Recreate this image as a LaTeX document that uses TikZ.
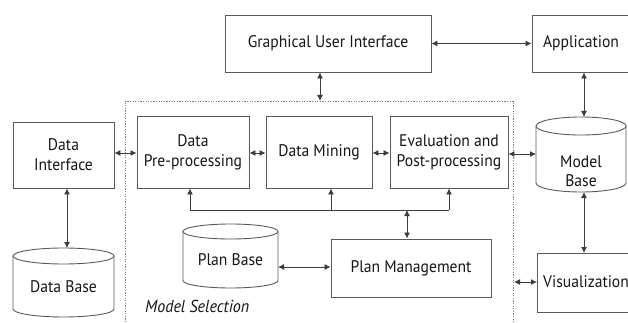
\documentclass[tikz,border=0pt]{standalone}
\usepackage{fontspec}
\setmainfont[FakeStretch=0.93]{PT Sans}
\usetikzlibrary{arrows.meta}
\definecolor{edgegray}{HTML}{5A5A5A}
\definecolor{linkgray}{HTML}{3C3C3C}
\definecolor{textgray}{HTML}{151515}
\begin{document}
\begin{tikzpicture}[x=1pt,y=1pt,
  box/.style={draw=edgegray, line width=0.9pt, inner sep=0pt, align=center,
    text=textgray, font=\fontsize{16.8}{20}\selectfont},
  label/.style={inner sep=0pt, align=center, text=textgray,
    font=\fontsize{16.8}{18.5}\selectfont},
  cylline/.style={draw=edgegray, line width=0.9pt},
  link/.style={draw=linkgray, line width=0.85pt,
    {Latex[length=6pt,width=6pt]}-{Latex[length=6pt,width=6pt]}},
  uplink/.style={draw=linkgray, line width=0.85pt, -{Latex[length=6pt,width=6pt]}},
  plain/.style={draw=linkgray, line width=0.85pt},
  frame/.style={draw=gray, line width=0.8pt, dash pattern=on 1.2pt off 1.4pt}]
\useasboundingbox (0,0) rectangle (628,-323);
\clip (0,0) rectangle (628,-323);

% cylinder outline: #1 left, #2 right, #3 top, #4 bottom (all downward), #5 rim half-height
\newcommand{\drumshape}[5]{%
  \draw[cylline, fill=white] ({#1},{-#3-#5}) -- ({#1},{-#4+#5})
    arc[start angle=180, end angle=360, x radius={(#2-#1)/2}, y radius=#5]
    -- ({#2},{-#3-#5});
  \draw[cylline] ({(#1+#2)/2},{-#3-#5}) ellipse[x radius={(#2-#1)/2}, y radius=#5];}

% dotted frame of the model selection area
\draw[frame] (125,-330) -- (125,-101) -- (513,-101) -- (513,-330);

% boxes
\node[box, minimum width=206, minimum height=57] (gui) at (328,-43.5) {Graphical User Interface};
\node[box, minimum width=98, minimum height=57] (app) at (581,-43.5) {Application};
\node[box, minimum width=101, minimum height=66] (di) at (63.5,-155) {Data\\Interface};
\node[box, minimum width=112, minimum height=72] (pre) at (193,-152) {Data\\Pre-processing};
\node[box, minimum width=106, minimum height=72] (mine) at (319,-152) {Data Mining};
\node[box, minimum width=118, minimum height=72] (eval) at (449,-152) {Evaluation and\\Post-processing};
\node[box, minimum width=160, minimum height=58] (pm) at (411,-268) {Plan Management};
\draw[draw=edgegray, line width=0.9pt] (640,-253) -- (537,-253) -- (537,-312) -- (640,-312);
\node[label, anchor=west] (vis) at (537,-282) {\hspace{6pt}Visualization};

% databases
\drumshape{536}{626}{117}{192}{9}
\node[label] (mb) at (581,-171) {Model\\Base};
\coordinate (mbtop) at (584,-117);
\coordinate (mbbot) at (584,-192);
\coordinate (mbwest) at (536,-154);

\drumshape{13}{114}{248}{317}{8}
\node[label] (db) at (63.5,-287) {Data Base};
\coordinate (dbtop) at (67,-248);

\drumshape{183}{278}{224}{288}{7.5}
\node[label] (pb) at (230.5,-260) {Plan Base};
\coordinate (pbeast) at (278,-267);

\node[inner sep=0pt, text=textgray, font=\fontsize{17.3}{20}\selectfont\itshape, anchor=west]
  (ms) at (145,-306) {Model Selection};

% connectors
\coordinate (guidot) at (320,-101);
\draw[link] (gui.east) -- (app.west);
\draw[link] (gui.south -| guidot) -- (guidot);
\draw[link] (app.south -| mbtop) -- (mbtop);
\draw[link] (di.east |- 0,-153) -- (pre.west |- 0,-153);
\draw[link] (pre.east |- 0,-153) -- (mine.west |- 0,-153);
\draw[link] (mine.east |- 0,-153) -- (eval.west |- 0,-153);
\draw[link] (eval.east |- mbwest) -- (mbwest);
\draw[link] (di.south -| dbtop) -- (dbtop);

% feedback bus below the processing chain
\coordinate (busl) at (190,-210);
\coordinate (busm) at (331,-210);
\coordinate (busr) at (449,-210);
\coordinate (busp) at (407,-210);
\draw[plain] (busl) -- (busr);
\draw[uplink] (busl) -- (pre.south -| busl);
\draw[uplink] (busm) -- (mine.south -| busm);
\draw[uplink] (busr) -- (eval.south -| busr);
\draw[link] (busp) -- (pm.north -| busp);

\draw[link] (pbeast) -- (pm.west |- pbeast);
\draw[link] (mbbot) -- (584,-253);
\coordinate (framepoint) at (514,-282);
\draw[link] (framepoint) -- (537,-282);
\end{tikzpicture}
\end{document}
